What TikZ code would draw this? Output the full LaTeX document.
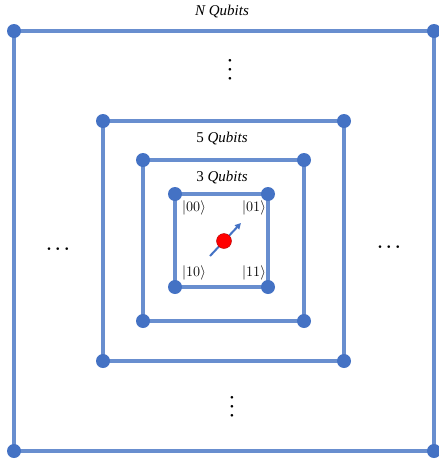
\documentclass[tikz,border=0pt]{standalone}
\usepackage{fontspec}
\setmainfont{Liberation Serif}
\usetikzlibrary{arrows.meta, positioning}
\definecolor{qline}{RGB}{104,142,207}
\definecolor{qdot}{RGB}{68,114,196}

\begin{document}
\begin{tikzpicture}[
    x=1pt, y=-1pt,
    edge/.style={qline, line width=3.5pt},
    corner/.style={circle, fill=qdot, inner sep=0pt, minimum size=14pt},
    label/.style={font=\fontsize{15}{17}\selectfont, inner sep=0pt},
    ket/.style={font=\fontsize{15}{17}\selectfont, inner sep=0pt},
    more/.style={font=\fontsize{18}{20}\selectfont\boldmath, inner sep=0pt},
    arrow/.style={-{Triangle[length=6pt, width=6pt]}, qdot, line width=2pt}
]
\useasboundingbox (0,0) rectangle (439,464);
% nested registers
\foreach \n/\l/\t/\r/\b in {N/14/31/434/451, F/103/121/344/361, T/143/160/304/321, Q/175/194/268/287} {
    \coordinate (\n tl) at (\l,\t);
    \coordinate (\n tr) at (\r,\t);
    \coordinate (\n br) at (\r,\b);
    \coordinate (\n bl) at (\l,\b);
    \draw[edge] (\n tl) -- (\n tr) -- (\n br) -- (\n bl) -- cycle;
    \node[corner] (\n tl dot) at (\n tl) {};
    \node[corner] (\n tr dot) at (\n tr) {};
    \node[corner] (\n br dot) at (\n br) {};
    \node[corner] (\n bl dot) at (\n bl) {};
}
% labels
\node[label] (lN) at (222,12) {\textit{N Qubits}};
\node[label] (l5) at (222,139) {5 \textit{Qubits}};
\node[label] (l3) at (222,178) {3 \textit{Qubits}};
% basis states
\node[ket] (k00) at (194,208) {$|00\rangle$};
\node[ket] (k01) at (254,208) {$|01\rangle$};
\node[ket] (k10) at (194,273) {$|10\rangle$};
\node[ket] (k11) at (254,273) {$|11\rangle$};
% spin
\coordinate (tail) at (210,256);
\coordinate (head) at (241,223);
\draw[arrow] (tail) -- (head);
\node[circle, fill=red, draw=red!70!black, line width=0.4pt, inner sep=0pt, minimum size=15pt] (spin) at (224,241) {};
% continuation dots
\node[more, rotate=90] (dtop) at (230,70) {$\ldots$};
\node[more, rotate=90] (dbot) at (232,407) {$\ldots$};
\node[more] (dleft) at (58,249) {$\ldots$};
\node[more] (dright) at (389,247) {$\ldots$};
\end{tikzpicture}
\end{document}
